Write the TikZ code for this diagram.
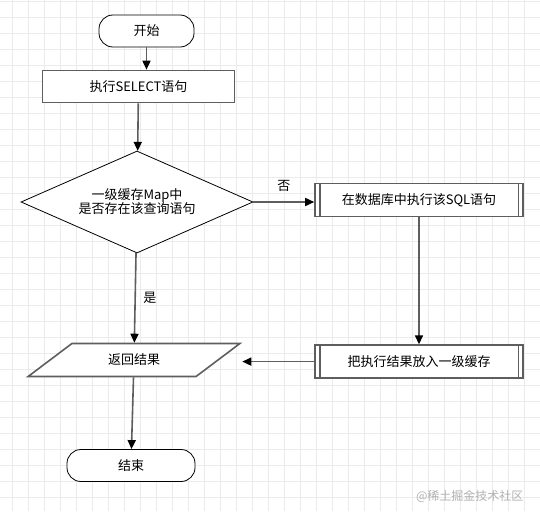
\documentclass[tikz,border=0pt]{standalone}
\usepackage{fontspec}
\setmainfont{Noto Sans CJK SC}
\usetikzlibrary{positioning,shapes.geometric,arrows.meta,calc}
\definecolor{linegray}{HTML}{5E5E5E}
\definecolor{gridgray}{HTML}{EBEBEB}
\definecolor{markgray}{HTML}{B2B2B2}
\tikzset{
   gridline/.style={draw=gridgray, line width=0.7pt},
   terminal/.style={rectangle, rounded corners=14pt, draw=black, line width=0.8pt,
      fill=white, minimum height=32pt, inner sep=0pt, font=\fontsize{13}{15}\selectfont},
   process/.style={rectangle, draw=linegray, line width=1.6pt, fill=white,
      minimum width=192pt, minimum height=32pt, font=\fontsize{13}{15}\selectfont},
   subproc/.style={process, minimum width=208pt, minimum height=33pt},
   decision/.style={diamond, aspect=2.27, draw=black, line width=0.8pt, fill=white, inner sep=0pt,
      minimum width=232pt, minimum height=102pt, align=center,
      font=\fontsize{13}{14}\selectfont},
   io/.style={trapezium, trapezium left angle=42, trapezium right angle=138,
      trapezium stretches=true, draw=linegray, line width=1.6pt, fill=white,
      minimum width=214pt, minimum height=33pt, font=\fontsize{13}{15}\selectfont},
   arrow/.style={draw=linegray, line width=1.6pt,
      -{Triangle[length=9pt,width=8pt,color=black]}},
   edgelabel/.style={font=\fontsize{13}{15}\selectfont},
}

\begin{document}
\begin{tikzpicture}[x=1pt,y=-1pt]
   \fill[white] (0,0) rectangle (540,511);
   \useasboundingbox (0,0) rectangle (540,511);

   % background grid
   \foreach \gx in {12,28,...,540} \draw[gridline] (\gx,0) -- (\gx,511);
   \foreach \gy in {1,17,...,511} \draw[gridline] (0,\gy) -- (540,\gy);

   \node[terminal, minimum width=95pt] (start) at (146.5,31) {开始};
   \node[process] (select) at (138.5,86.5) {执行SELECT语句};
   \node[decision] (query) at (137,202) {一级缓存Map中\\是否存在该查询语句};
   \node[subproc] (sql) at (419,200) {在数据库中执行该SQL语句};
   \node[subproc, below=127pt of sql] (save) {把执行结果放入一级缓存};
   \node[io] (result) at (134,360) {返回结果};
   \node[terminal, minimum width=128pt] (stop) at (131,465.5) {结束};

   % double side lines of the predefined processes
   \foreach \n in {sql,save} {
      \draw[draw=linegray, line width=1.6pt] ([xshift=5.5pt]\n.north west) -- ([xshift=5.5pt]\n.south west);
      \draw[draw=linegray, line width=1.6pt] ([xshift=-5.5pt]\n.north east) -- ([xshift=-5.5pt]\n.south east);
   }

   \draw[arrow] (start) -- (start |- select.north);
   \draw[arrow] (select) -- (query);
   \draw[arrow] (query.east) -- (query.east -| sql.west)
      node[edgelabel, midway, above=6pt] {否};
   \draw[arrow] (query) -- (result) node[edgelabel, midway, right=4pt] {是};
   \draw[arrow] (sql) -- (save);
   \draw[arrow] (save.west) -- (result.top right corner |- save.west);
   \draw[arrow] (result) -- (stop);

   \node[anchor=east, text=markgray, font=\fontsize{12}{14}\selectfont] (mark) at (527,496) {@稀土掘金技术社区};
\end{tikzpicture}
\end{document}
